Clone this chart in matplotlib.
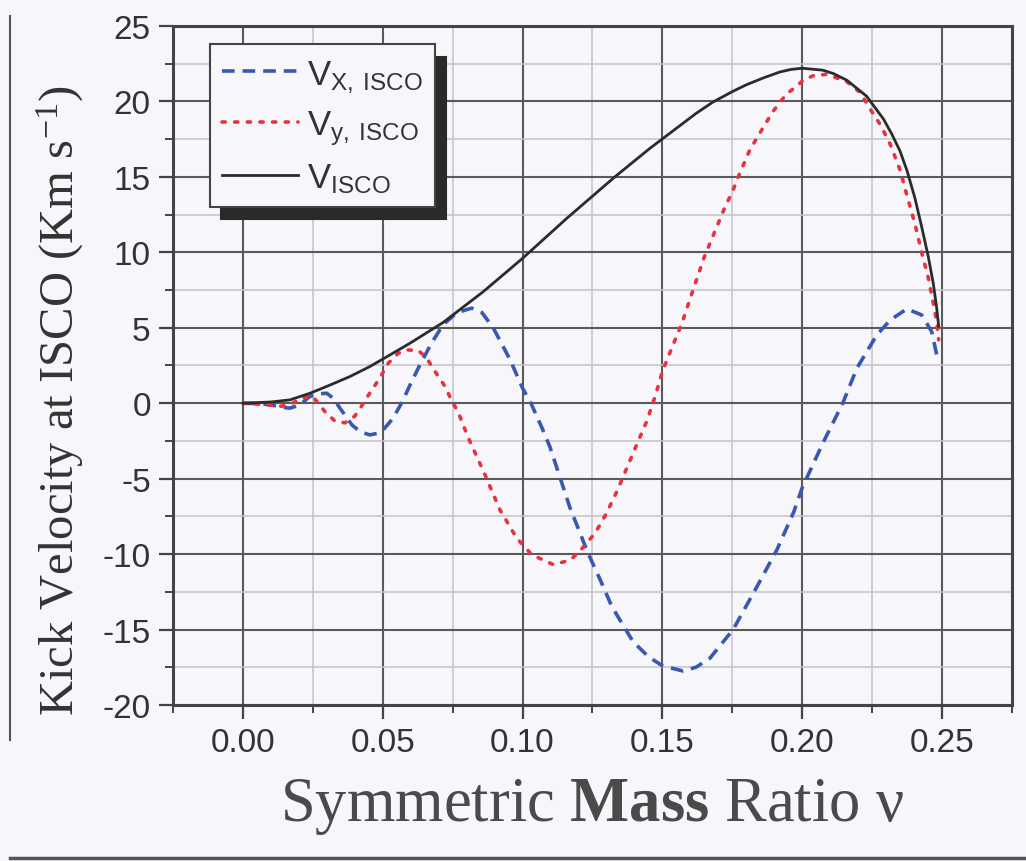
import matplotlib.pyplot as plt
import numpy as np
from matplotlib.ticker import MultipleLocator
from matplotlib.lines import Line2D

plt.rcParams['mathtext.fontset'] = 'custom'
plt.rcParams['mathtext.rm'] = 'Liberation Serif'
plt.rcParams['mathtext.it'] = 'Liberation Serif:italic'
plt.rcParams['mathtext.bf'] = 'Liberation Serif:bold'
plt.rcParams['mathtext.sf'] = 'Liberation Sans'

# symmetric mass ratio / kick velocity (km/s)
nu_x = [0, 0.005, 0.0097, 0.0135, 0.0168, 0.019, 0.021, 0.024, 0.027, 0.030,
        0.0325, 0.0347, 0.039, 0.042, 0.0454, 0.048, 0.050, 0.0537, 0.057, 0.060,
        0.0633, 0.0675, 0.0716, 0.0765, 0.0818, 0.0855, 0.0895, 0.0955, 0.100, 0.103,
        0.107, 0.1098, 0.117, 0.1234, 0.128, 0.132, 0.1395, 0.145, 0.150, 0.1574,
        0.162, 0.167, 0.1753, 0.1837, 0.191, 0.197, 0.200, 0.2075, 0.2145, 0.2195,
        0.2266, 0.2314, 0.2374, 0.2427, 0.2463, 0.2481, 0.2488]
v_x = [0, -0.03, -0.1, -0.25, -0.33, -0.2, 0, 0.45, 0.62, 0.66,
       0.3, -0.33, -1.44, -1.9, -2.1, -2.0, -1.8, -1.0, 0.1, 1.3,
       2.54, 4.0, 5.2, 6.0, 6.3, 6.0, 5.0, 2.9, 1.0, 0,
       -1.66, -2.9, -6.95, -9.93, -11.8, -13.5, -15.8, -16.8, -17.4, -17.75,
       -17.5, -16.9, -15.0, -12.2, -9.7, -7.2, -5.6, -2.6, 0, 2.3,
       4.5, 5.5, 6.25, 5.85, 4.75, 3.2, 2.8]

nu_y = [0, 0.006, 0.0138, 0.017, 0.021, 0.0246, 0.027, 0.0293, 0.033, 0.0365,
        0.040, 0.0424, 0.0444, 0.0466, 0.0496, 0.052, 0.0555, 0.0585, 0.0627, 0.0657,
        0.068, 0.0723, 0.0746, 0.077, 0.0805, 0.0866, 0.0919, 0.0979, 0.1033, 0.111,
        0.117, 0.1205, 0.126, 0.130, 0.134, 0.140, 0.1444, 0.1474, 0.150, 0.1538,
        0.157, 0.1605, 0.165, 0.1688, 0.1724, 0.175, 0.1778, 0.1813, 0.1855, 0.1894,
        0.1944, 0.198, 0.2003, 0.2039, 0.2088, 0.216, 0.2207, 0.2253, 0.2278, 0.2314,
        0.235, 0.2374, 0.2403, 0.2427, 0.2451, 0.2469, 0.2481, 0.2488]
v_y = [0, -0.07, -0.2, -0.07, 0.33, 0.5, 0.0, -0.55, -1.2, -1.3,
       -0.86, -0.2, 0.4, 1.0, 1.87, 2.65, 3.3, 3.53, 3.5, 3.0,
       2.3, 1.1, 0.2, -0.6, -2.25, -4.75, -7.06, -8.94, -10.04, -10.7,
       -10.4, -9.8, -8.6, -7.3, -5.74, -3.1, -1.2, 0.44, 2.1, 3.86,
       5.3, 7.25, 9.7, 11.4, 13.0, 14.0, 15.3, 16.8, 18.1, 19.3,
       20.5, 21.0, 21.4, 21.7, 21.8, 21.3, 20.6, 19.2, 18.5, 17.2,
       15.45, 13.8, 11.9, 10.0, 8.3, 6.6, 5.4, 4.2]

nu_tot = [0, 0.010, 0.0168, 0.024, 0.0311, 0.0383, 0.0454, 0.0526, 0.0597, 0.0716,
          0.086, 0.100, 0.1158, 0.133, 0.1456, 0.1563, 0.162, 0.168, 0.175, 0.180,
          0.186, 0.192, 0.196, 0.200, 0.2074, 0.2111, 0.216, 0.223, 0.229, 0.232,
          0.235, 0.2375, 0.2403, 0.2427, 0.2451, 0.2469, 0.2481, 0.2488]
v_tot = [0, 0.08, 0.22, 0.66, 1.2, 1.77, 2.43, 3.2, 3.97, 5.35,
         7.4, 9.6, 12.25, 15.0, 16.9, 18.4, 19.2, 19.95, 20.65, 21.1,
         21.55, 21.95, 22.12, 22.2, 22.07, 21.85, 21.4, 20.35, 18.85, 17.85,
         16.7, 15.4, 13.6, 11.7, 9.7, 7.9, 6.3, 5.1]

bg = '#f7f7fb'
fig = plt.figure(figsize=(10.26, 8.62), dpi=100, facecolor=bg)
ax = fig.add_axes([0.1686, 0.181, 0.8177, 0.7877], facecolor=bg)

ax.plot(nu_x, v_x, color='#3a58b0', ls=(0, (3.5, 2.2)), lw=2.6,
        label=r'$\mathsf{V}_{\mathsf{X,\ ISCO}}$')
ax.plot(nu_y, v_y, color='#e8323c', ls=(0, (0.9, 2.6)), lw=2.6,
        dash_capstyle='round', label=r'$\mathsf{V}_{\mathsf{y,\ ISCO}}$')
ax.plot(nu_tot, v_tot, color='#2b2b2b', lw=2.0,
        label=r'$\mathsf{V}_{\mathsf{ISCO}}$')

ax.set_xlim(-0.025, 0.275)
ax.set_ylim(-20, 25)
ax.set_xticks(np.arange(0, 0.251, 0.05))
ax.xaxis.set_minor_locator(MultipleLocator(0.025))
ax.set_yticks(np.arange(-20, 26, 5))
ax.yaxis.set_minor_locator(MultipleLocator(2.5))
ax.grid(which='major', color='#5a5a5a', lw=1.5)
ax.grid(which='minor', color='#c4c4c8', lw=1.1)
ax.set_axisbelow(True)

for s in ax.spines.values():
    s.set_color('#444444')
    s.set_linewidth(2.2)
ax.tick_params(which='major', length=10, width=1.6, color='#444444',
               labelsize=24, labelcolor='#333333', pad=6)
ax.tick_params(which='minor', length=6, width=1.4, color='#444444')
ax.set_xticklabels(['0.00', '0.05', '0.10', '0.15', '0.20', '0.25'])
ax.set_yticklabels([str(v) for v in range(-20, 26, 5)])
for lab in ax.get_xticklabels() + ax.get_yticklabels():
    lab.set_family('Liberation Sans')

ax.set_ylabel(r'Kick Velocity at ISCO (Km s$^{\mathrm{-1}}$)', family='Liberation Serif',
              fontsize=35, color='#333333')
ax.yaxis.set_label_coords(-0.104, 0.45)
ax.set_xlabel(r'Symmetric $\mathbf{Mass}$ Ratio $\mathrm{\nu}$', family='Liberation Serif',
              fontsize=45, color='#4a4a4a', labelpad=13)

leg = ax.legend(loc='upper left', bbox_to_anchor=(0.044, 0.973), borderaxespad=0,
                fontsize=25, frameon=True, fancybox=False, framealpha=1,
                edgecolor='#444444', facecolor=bg, handlelength=2.2,
                handletextpad=0.25, labelspacing=0.4, borderpad=0.35,
                shadow={'ox': 8, 'oy': -9, 'color': '#2a2a2a', 'alpha': 1})
leg.get_frame().set_linewidth(1.5)
for t in leg.get_texts():
    t.set_color('#333333')

# scan page border
fig.add_artist(Line2D([0.0098, 0.0098], [0.14, 0.98], color='#555555', lw=1.5))
fig.add_artist(Line2D([0.0098, 1.0], [0.004, 0.004], color='#555555', lw=2.5))

fig.savefig('out.png', dpi=100, facecolor=bg)
